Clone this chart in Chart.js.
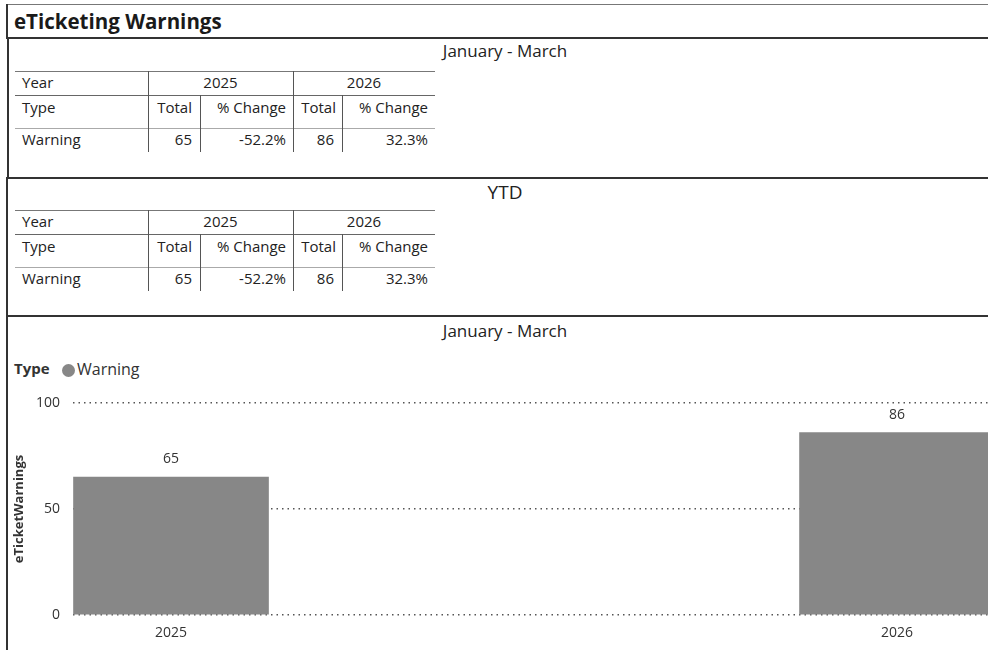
<!DOCTYPE html>
<html><head><meta charset="utf-8">
<script src="https://cdn.jsdelivr.net/npm/chart.js@4/dist/chart.umd.min.js"></script>
<style>
html,body{margin:0;padding:0;background:#fff;overflow:hidden;}
body{width:988px;height:650px;position:relative;font-family:"Open Sans",sans-serif;color:#222;}
.t{position:absolute;white-space:nowrap;}
.h{position:absolute;height:0;}
.v{position:absolute;width:0;}
#chartBox{position:absolute;left:7px;top:317px;width:981px;height:333px;}
</style>
</head><body>
<div id="page"></div>
<div id="chartBox"><canvas id="c"></canvas></div>
<script>
// ---- data ----
const reportTitle = 'eTicketing Warnings';
const years = ['2025', '2026'];
const typeNames = ['Warning'];
const janMarTotals = [65, 86];
const janMarChange = [-52.2, 32.3];
const ytdTotals = [65, 86];
const ytdChange = [-52.2, 32.3];
const chartYears = [2025, 2026];
const chartValues = [65, 86];
const yTicks = [0, 50, 100];
const yAxisTitle = 'eTicketWarnings';
const legendTitle = 'Type';

const page = document.getElementById('page');
function el(cls, css, text){
  const d = document.createElement('div');
  d.className = cls; d.style.cssText = css;
  if (text !== undefined) d.textContent = text;
  page.appendChild(d); return d;
}
function hl(x1, x2, y, w, col){ el('h', `left:${x1}px;top:${y}px;width:${x2-x1}px;border-top:${w}px solid ${col};`); }
function vl(x, y1, y2, w, col){ el('v', `left:${x}px;top:${y1}px;height:${y2-y1}px;border-left:${w}px solid ${col};`); }
function txt(s, x1, x2, cy, align, font){
  el('t', `left:${x1}px;width:${x2-x1}px;top:${cy-12}px;height:24px;line-height:24px;text-align:${align};font:${font};`, s);
}
const fmtPct = v => v.toFixed(1) + '%';

// frame
hl(6, 988, 4, 1.5, '#777');
vl(6, 4, 39, 2, '#333');
el('t', 'left:14px;top:7px;height:28px;line-height:28px;font:bold 20.5px "Open Sans";color:#1a1a1a;', reportTitle);
hl(6, 988, 37, 2.5, '#333');
vl(7, 38, 178, 2, '#333');
hl(6, 988, 177, 2.5, '#333');
vl(6, 178, 317, 2, '#333');
hl(6, 988, 315, 2.5, '#333');
vl(6, 316, 650, 2, '#333');

const F = '15px "Open Sans"';
const FH = '17px "Open Sans"';
txt('January - March', 405, 605, 51, 'center', FH);
txt('YTD', 405, 605, 191, 'center', '19px "Open Sans"');
txt('January - March', 405, 605, 331, 'center', FH);

function makeTable(top, totals, changes){
  const r1 = top, r2 = top + 24, r3 = top + 57, r4 = top + 81;
  hl(15, 435, r1, 1, '#777');
  hl(15, 435, r2, 1.5, '#666');
  hl(15, 435, r3, 1, '#aaa');
  vl(148, r1, r4, 1.5, '#555');
  vl(293, r1, r4, 1.5, '#555');
  vl(200, r2, r4, 1.5, '#555');
  vl(342, r2, r4, 1.5, '#555');
  txt('Year', 22, 140, (r1 + r2) / 2 + 1, 'left', F);
  txt(years[0], 148, 293, (r1 + r2) / 2 + 1, 'center', F);
  txt(years[1], 293, 435, (r1 + r2) / 2 + 1, 'center', F);
  txt('Type', 22, 140, r2 + 14, 'left', F);
  txt('Total', 150, 192, r2 + 14, 'right', F);
  txt('% Change', 202, 286, r2 + 14, 'right', F);
  txt('Total', 295, 336, r2 + 14, 'right', F);
  txt('% Change', 344, 428, r2 + 14, 'right', F);
  txt(typeNames[0], 22, 140, r3 + 13, 'left', F);
  txt(String(totals[0]), 150, 192, r3 + 13, 'right', F);
  txt(fmtPct(changes[0]), 202, 286, r3 + 13, 'right', F);
  txt(String(totals[1]), 295, 334, r3 + 13, 'right', F);
  txt(fmtPct(changes[1]), 344, 428, r3 + 13, 'right', F);
}
makeTable(71, janMarTotals, janMarChange);
makeTable(210, ytdTotals, ytdChange);

// legend
el('t', 'left:14px;top:358px;height:24px;line-height:24px;font:bold 15px "Open Sans";color:#333;', legendTitle);
el('t', 'left:62px;top:364px;width:13px;height:13px;border-radius:50%;background:#878787;');
el('t', 'left:77px;top:358px;height:24px;line-height:24px;font:16px "Open Sans";color:#333;', typeNames[0]);

const valueLabels = {
  id: 'valueLabels',
  afterDatasetsDraw(chart){
    const ctx = chart.ctx;
    chart.data.datasets.forEach((ds, i) => {
      chart.getDatasetMeta(i).data.forEach((bar, j) => {
        ctx.save();
        ctx.font = '14px "Open Sans"';
        ctx.fillStyle = '#333';
        ctx.textAlign = 'center';
        ctx.textBaseline = 'middle';
        ctx.fillText(String(ds.data[j]), bar.x, bar.y - 18);
        ctx.restore();
      });
    });
  }
};

const X_MIN = 2024.865, X_MAX = 2026.1253;
new Chart(document.getElementById('c'), {
  type: 'bar',
  data: {
    labels: chartYears,
    datasets: [{ label: typeNames[0], data: chartValues, backgroundColor: '#878787', barThickness: 195 }]
  },
  plugins: [valueLabels],
  options: {
    responsive: true, maintainAspectRatio: false, animation: false,
    layout: { padding: { left: 0, right: 0, top: 86, bottom: 0 } },
    plugins: { legend: { display: false }, tooltip: { enabled: false } },
    scales: {
      x: {
        type: 'linear', min: X_MIN, max: X_MAX, offset: false, bounds: 'data',
        afterDataLimits: s => { s.min = X_MIN; s.max = X_MAX; },
        grid: { display: false, drawTicks: false, offset: false }, border: { display: false },
        afterBuildTicks: s => { s.ticks = chartYears.map(v => ({ value: v })); },
        afterFit: s => { s.height = 35; },
        ticks: { padding: 10, color: '#333', font: { family: 'Open Sans', size: 14 }, callback: v => String(v), maxRotation: 0, autoSkip: false }
      },
      y: {
        min: 0, max: 100,
        afterBuildTicks: s => { s.ticks = yTicks.map(v => ({ value: v })); },
        afterFit: s => { s.width = 66; },
        border: { display: false, dash: [1.5, 4] },
        grid: { color: '#555', lineWidth: 1.5, drawTicks: false },
        ticks: { padding: 13, color: '#333', font: { family: 'Open Sans', size: 14 } },
        title: { display: true, text: yAxisTitle, color: '#333', font: { family: 'Open Sans', size: 13, weight: 'bold' }, padding: { top: 4, bottom: 0 } }
      }
    }
  }
});
</script>
</body></html>
